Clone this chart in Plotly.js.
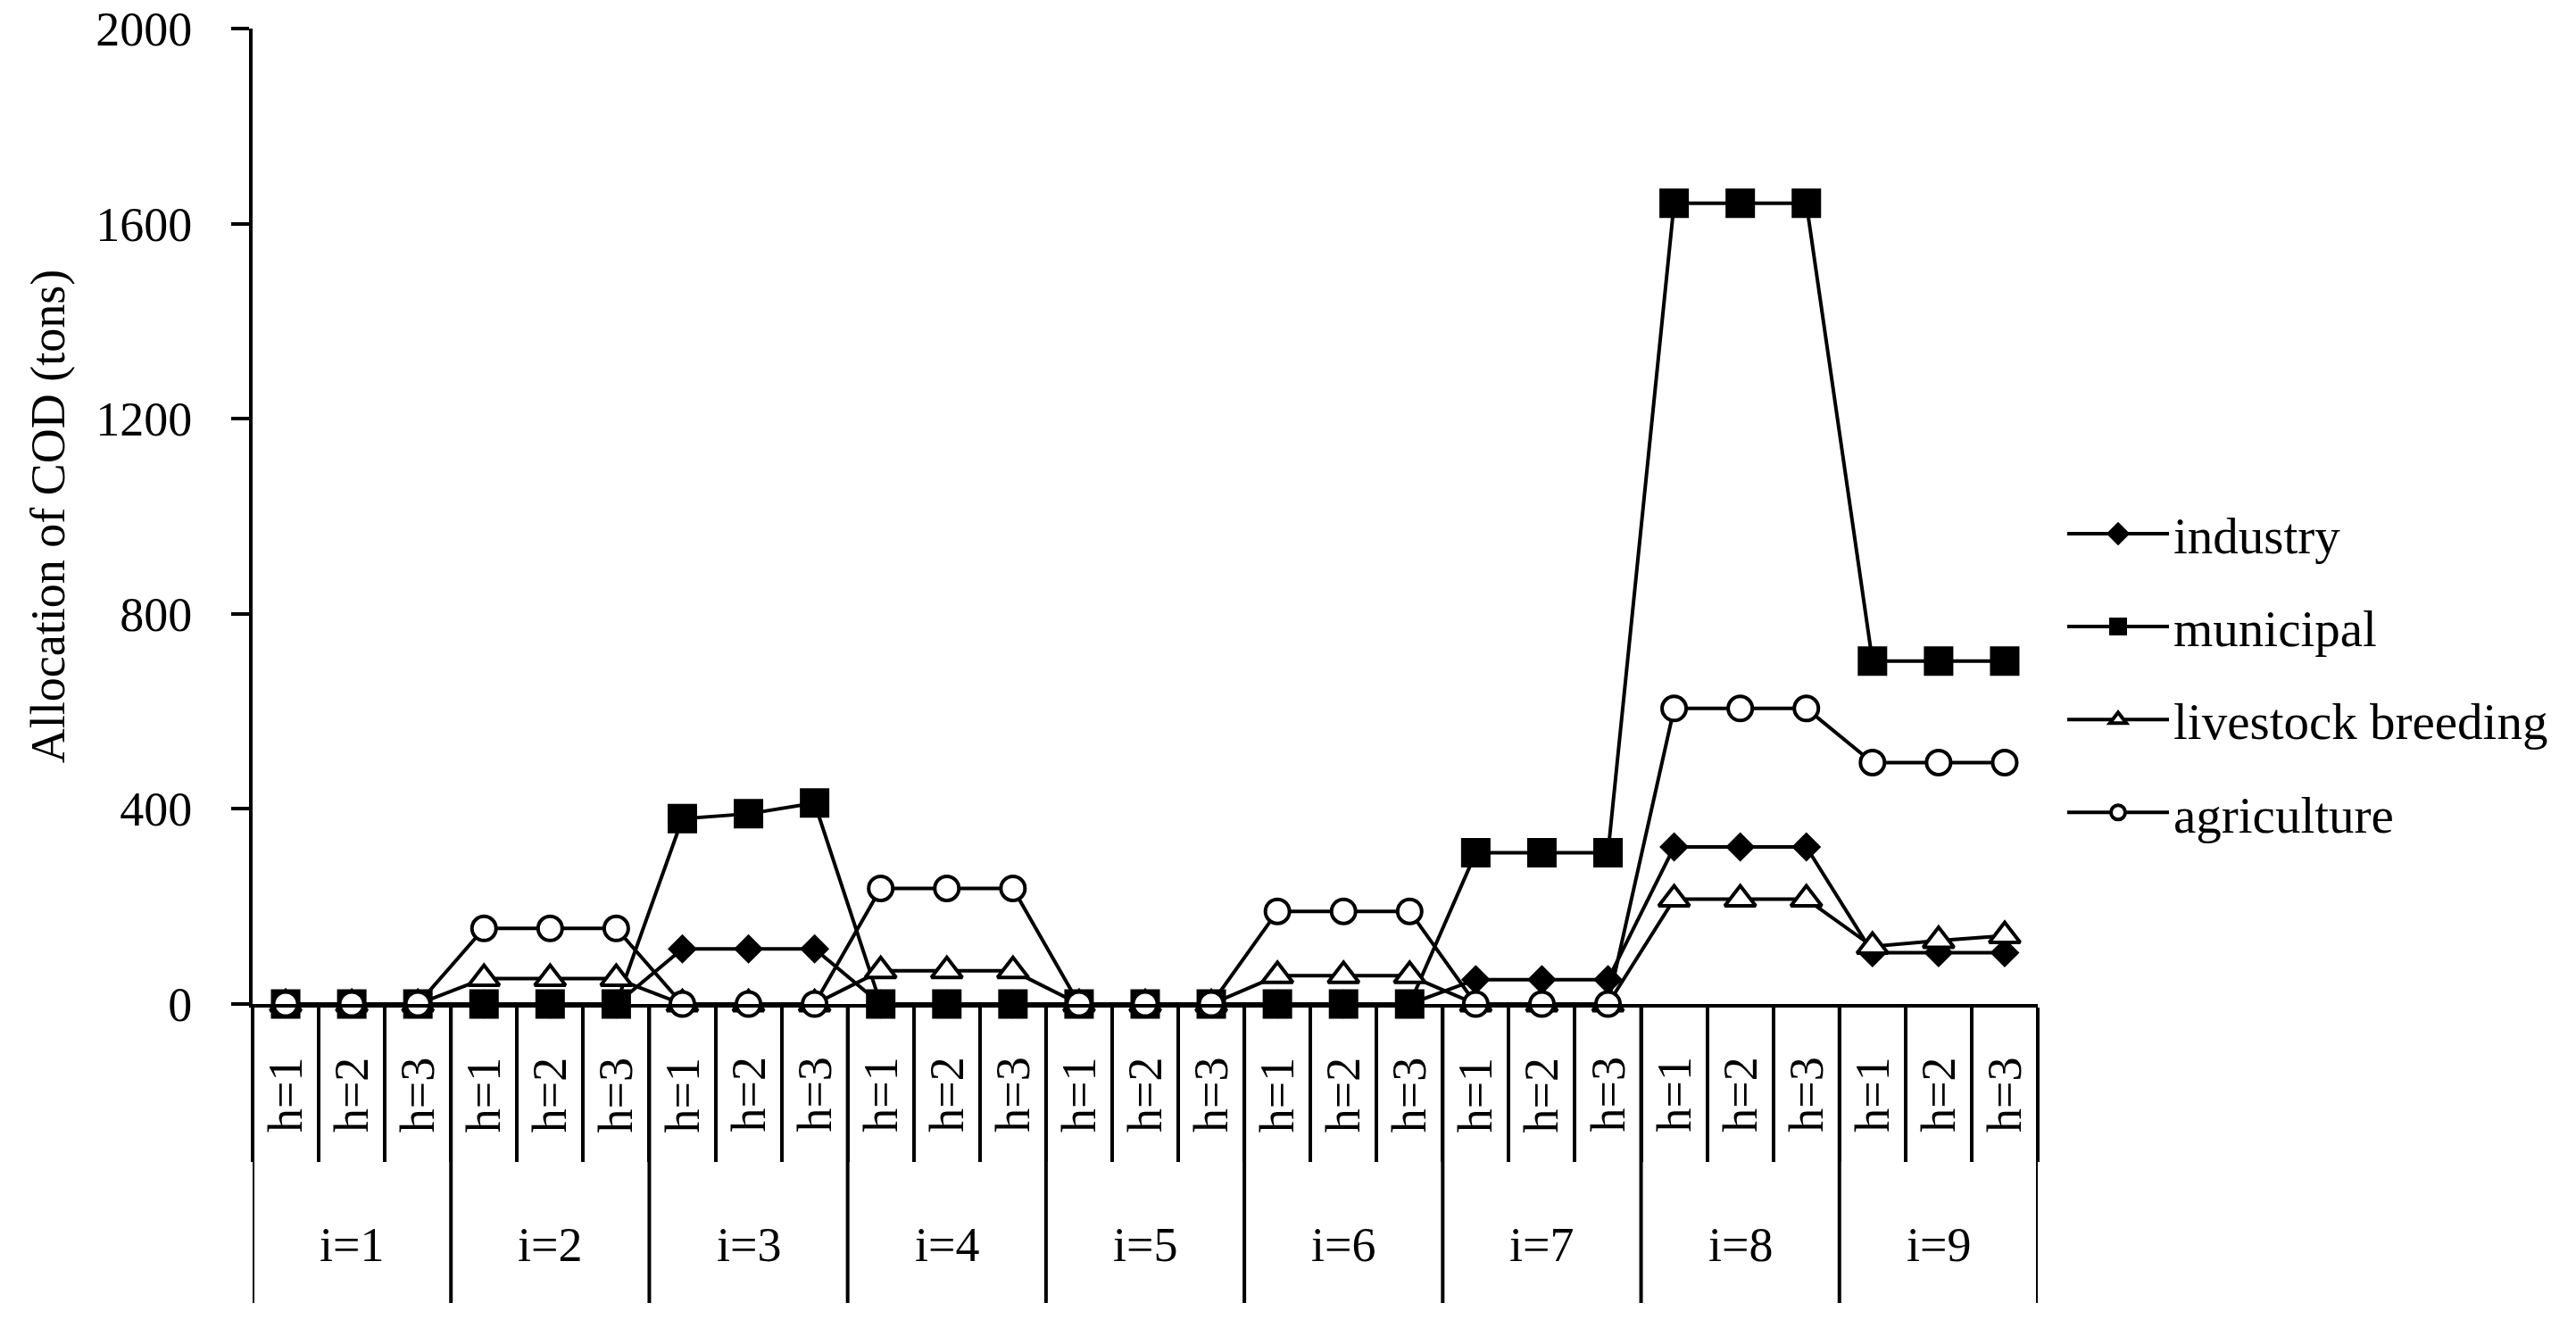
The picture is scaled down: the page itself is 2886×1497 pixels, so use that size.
<!DOCTYPE html>
<html>
<head>
<meta charset="utf-8">
<script src="https://cdn.plot.ly/plotly-3.0.1.min.js"></script>
<style>html,body{margin:0;padding:0;background:#fff;}#chart{width:2886px;height:1497px;}</style>
</head>
<body>
<div id="chart"></div>
<script>
// ---- data ----
var groupLabels = ['i=1','i=2','i=3','i=4','i=5','i=6','i=7','i=8','i=9'];
var hLabels = ['h=1','h=2','h=3'];
var seriesNames = ['industry','municipal','livestock breeding','agriculture'];
var industry    = [0,0,0, 0,0,0, 113,113,113, 0,0,0, 0,0,0, 0,0,0, 50,50,50, 322,322,322, 105,105,105];
var municipal   = [0,0,0, 0,0,0, 380,390,412, 0,0,0, 0,0,0, 0,0,0, 310,310,310, 1642,1642,1642, 703,703,703];
var livestock   = [0,0,0, 52,52,52, 0,0,0, 68,68,68, 0,0,0, 58,58,58, 0,0,0, 215,215,215, 118,130,140];
var agriculture = [0,0,0, 155,155,155, 0,0,0, 237,237,237, 0,0,0, 190,190,190, 0,0,0, 606,606,606, 495,495,495];
var yTicks = [0,400,800,1200,1600,2000];

// ---- build categories ----
var cats = [];
groupLabels.forEach(function(g){ hLabels.forEach(function(h){ cats.push(g + ' ' + h); }); });

var FONT = 'Liberation Serif, Times New Roman, serif';
var fs = 54;

function tr(name, y, symbol, size, fill, idx){
  return {
    type:'scatter', mode:'lines+markers', name:name, x:cats, y:y,
    legendgroup:'g'+idx, cliponaxis:false,
    line:{color:'#000', width:4},
    marker:{symbol:symbol, size:size, color:fill, line:{color:'#000', width:4}}
  };
}
var data = [
  tr(seriesNames[0], industry, 'diamond', 21, '#000', 0),
  tr(seriesNames[1], municipal, 'square', 29, '#000', 1),
  tr(seriesNames[2], livestock, 'triangle-up', 30, '#fff', 2),
  tr(seriesNames[3], agriculture, 'circle', 27, '#fff', 3)
];

// ---- separators & labels ----
var shapes = [];
var annotations = [];
var nPer = hLabels.length;
for (var g = 0; g <= groupLabels.length; g++) {
  shapes.push({type:'line', xref:'x', yref:'paper', x0:g*nPer-0.5, x1:g*nPer-0.5, y0:0, y1:-0.3065,
               line:{color:'#000', width:4}, layer:'above'});
}
cats.forEach(function(c, j){
  annotations.push({xref:'x', yref:'paper', x:c, y:-0.0933, xanchor:'center', yanchor:'middle',
                    text:hLabels[j % nPer], textangle:-90,
                    showarrow:false, font:{family:FONT, size:fs, color:'#000'}});
});
groupLabels.forEach(function(g, k){
  annotations.push({xref:'x', yref:'paper', x:cats[k*nPer+1], y:-0.247, xanchor:'center', yanchor:'middle',
                    text:g, showarrow:false, font:{family:FONT, size:fs, color:'#000'}});
});

var layout = {
  width:2886, height:1497,
  margin:{l:283, r:603, t:32, b:372},
  paper_bgcolor:'#fff', plot_bgcolor:'#fff',
  font:{family:FONT, size:fs, color:'#000'},
  showlegend:true,
  legend:{x:1.014, xanchor:'left', y:0.522, yanchor:'top', font:{family:FONT, size:57, color:'#000'},
          itemwidth:114, tracegroupgap:27, traceorder:'grouped', bgcolor:'rgba(0,0,0,0)'},
  xaxis:{type:'category', categoryorder:'array', categoryarray:cats, range:[-0.5, cats.length-0.5],
         showline:true, linecolor:'#000', linewidth:4, showgrid:false, zeroline:false,
         ticks:'outside', tickson:'boundaries', ticklen:173, tickwidth:4, tickcolor:'#000',
         showticklabels:false, fixedrange:true},
  yaxis:{range:[0,2000], tickvals:yTicks, ticktext:yTicks.map(String), showline:true, linecolor:'#000', linewidth:4,
         showgrid:false, zeroline:false, ticks:'outside', ticklen:20, tickwidth:4, tickcolor:'#000',
         ticklabelstandoff:33, tickfont:{family:FONT, size:fs, color:'#000'},
         title:{text:'Allocation of COD (tons)', font:{family:FONT, size:fs, color:'#000'}, standoff:18}},
  shapes:shapes,
  annotations:annotations
};

Plotly.newPlot('chart', data, layout, {displayModeBar:false, staticPlot:true});
</script>
</body>
</html>
